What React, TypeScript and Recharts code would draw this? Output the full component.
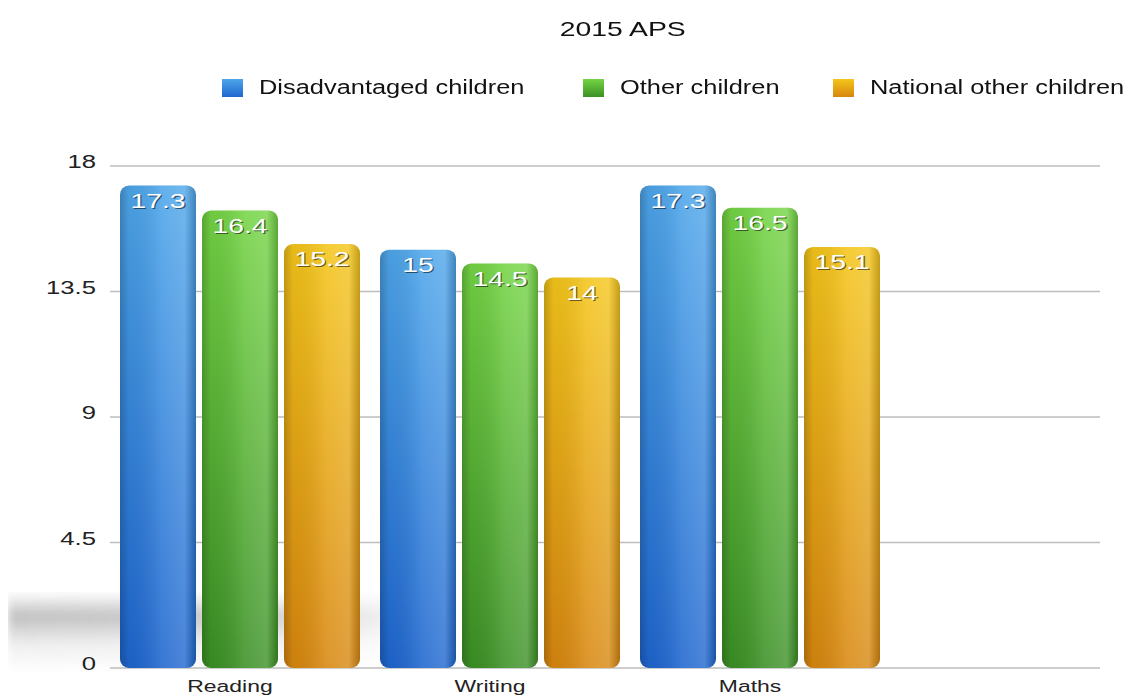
import React from 'react';
import { BarChart, Bar, XAxis, YAxis, CartesianGrid, LabelList } from 'recharts';

const categories = ['Reading', 'Writing', 'Maths'];
const disadvantaged = [17.3, 15, 17.3];
const otherChildren = [16.4, 14.5, 16.5];
const nationalOther = [15.2, 14, 15.1];
const yTicks = [0, 4.5, 9, 13.5, 18];

const seriesDefs = [
  { key: 'disadvantaged', name: 'Disadvantaged children', top: '#4ea6ea', bottom: '#1e66cf', id: 'gBlue' },
  { key: 'other', name: 'Other children', top: '#74d444', bottom: '#3b9025', id: 'gGreen' },
  { key: 'national', name: 'National other children', top: '#f4c51a', bottom: '#d8870f', id: 'gYellow' },
];

const data = categories.map((c, i) => ({
  category: c,
  disadvantaged: disadvantaged[i],
  other: otherChildren[i],
  national: nationalOther[i],
}));

const FONT = '"Liberation Sans", Arial, Helvetica, sans-serif';
const SX = 1.35;

const CylShape = (props: any) => {
  const { x, y, width, height, gid } = props;
  if (!height || height <= 0) return null;
  const r = 9;
  return (
    <g>
      <rect x={x} y={y} width={width} height={height} rx={r} ry={r} fill={`url(#${gid})`} />
      <rect x={x} y={y} width={width} height={height} rx={r} ry={r} fill="url(#shade)" />
    </g>
  );
};

const YTick = (props: any) => {
  const { x, y, payload } = props;
  return (
    <g transform={`translate(${x - 6},${y}) scale(${SX},1)`}>
      <text x={0} y={0} dy={2} textAnchor="end" fontFamily={FONT} fontSize={19} fill="#222">
        {payload.value}
      </text>
    </g>
  );
};

const XTick = (props: any) => {
  const { x, y, payload } = props;
  return (
    <g transform={`translate(${x - 10},${y}) scale(${SX},1)`}>
      <text x={0} y={0} dy={16} textAnchor="middle" fontFamily={FONT} fontSize={17} fill="#222">
        {payload.value}
      </text>
    </g>
  );
};

const ValueLabel = (props: any) => {
  const { x, y, width, value } = props;
  const cx = x + width / 2;
  return (
    <g transform={`translate(${cx},${y + 22}) scale(${SX},1)`}>
      <text x={1} y={1} textAnchor="middle" fontFamily={FONT} fontSize={21} fill="rgba(0,0,0,0.55)">
        {value}
      </text>
      <text x={0} y={0} textAnchor="middle" fontFamily={FONT} fontSize={21} fill="#ffffff">
        {value}
      </text>
    </g>
  );
};

const legendLefts = [222, 583, 833];

export default function App() {
  return (
    <div style={{ position: 'absolute', left: 0, top: 0, width: 1133, height: 700, background: '#fff', overflow: 'hidden' }}>
      <div
        style={{
          position: 'absolute',
          left: 8,
          top: 592,
          width: 440,
          height: 80,
          background: 'linear-gradient(180deg, rgba(160,160,160,0) 0%, rgba(140,140,140,0.55) 30%, rgba(190,190,190,0.25) 65%, rgba(255,255,255,0) 100%)',
          WebkitMaskImage: 'linear-gradient(90deg, rgba(0,0,0,1) 0%, rgba(0,0,0,0.85) 55%, rgba(0,0,0,0) 100%)',
          maskImage: 'linear-gradient(90deg, rgba(0,0,0,1) 0%, rgba(0,0,0,0.85) 55%, rgba(0,0,0,0) 100%)',
          filter: 'blur(4px)',
        }}
      />
      <div
        style={{
          position: 'absolute',
          left: 0,
          width: 1246,
          top: 17,
          textAlign: 'center',
          fontFamily: FONT,
          fontSize: 21,
          color: '#111',
        }}
      >
        <span style={{ display: 'inline-block', transform: `scaleX(${SX})` }}>2015 APS</span>
      </div>
      {seriesDefs.map((s, i) => (
        <div
          key={s.key}
          style={{ position: 'absolute', left: legendLefts[i], top: 76, display: 'flex', alignItems: 'center' }}
        >
          <div
            style={{
              width: 21,
              height: 18,
              background: `linear-gradient(${s.top}, ${s.bottom})`,
              marginRight: 16,
            }}
          />
          <span
            style={{
              fontFamily: FONT,
              fontSize: 20,
              color: '#111',
              display: 'inline-block',
              transform: 'scaleX(1.27)',
              transformOrigin: 'left center',
              whiteSpace: 'nowrap',
            }}
          >
            {s.name}
          </span>
        </div>
      ))}
      <BarChart
        width={1133}
        height={700}
        data={data}
        margin={{ top: 166, right: 33, bottom: 2, left: 10 }}
        barSize={76}
        barGap={6}
        style={{ position: 'absolute', left: 0, top: 0 }}
      >
        <defs>
          {seriesDefs.map((s) => (
            <linearGradient key={s.id} id={s.id} x1="0" y1="0" x2="0" y2="1">
              <stop offset="0%" stopColor={s.top} />
              <stop offset="100%" stopColor={s.bottom} />
            </linearGradient>
          ))}
          <linearGradient id="shade" x1="0" y1="0" x2="1" y2="0">
            <stop offset="0%" stopColor="#000" stopOpacity={0.22} />
            <stop offset="12%" stopColor="#000" stopOpacity={0.05} />
            <stop offset="55%" stopColor="#fff" stopOpacity={0.12} />
            <stop offset="85%" stopColor="#fff" stopOpacity={0.2} />
            <stop offset="100%" stopColor="#000" stopOpacity={0.2} />
          </linearGradient>
        </defs>
        <CartesianGrid vertical={false} stroke="#bdbdbd" strokeWidth={1.5} />
        <XAxis
          dataKey="category"
          axisLine={false}
          tickLine={false}
          height={30}
          padding={{ left: 0, right: 210 }}
          tick={<XTick />}
          interval={0}
        />
        <YAxis
          domain={[0, 18]}
          ticks={yTicks}
          axisLine={false}
          tickLine={false}
          width={100}
          tick={<YTick />}
        />
        {seriesDefs.map((s) => (
          <Bar
            key={s.key}
            dataKey={s.key}
            name={s.name}
            fill={s.bottom}
            isAnimationActive={false}
            shape={(p: any) => <CylShape {...p} gid={s.id} />}
          >
            <LabelList dataKey={s.key} content={<ValueLabel />} />
          </Bar>
        ))}
      </BarChart>
    </div>
  );
}
